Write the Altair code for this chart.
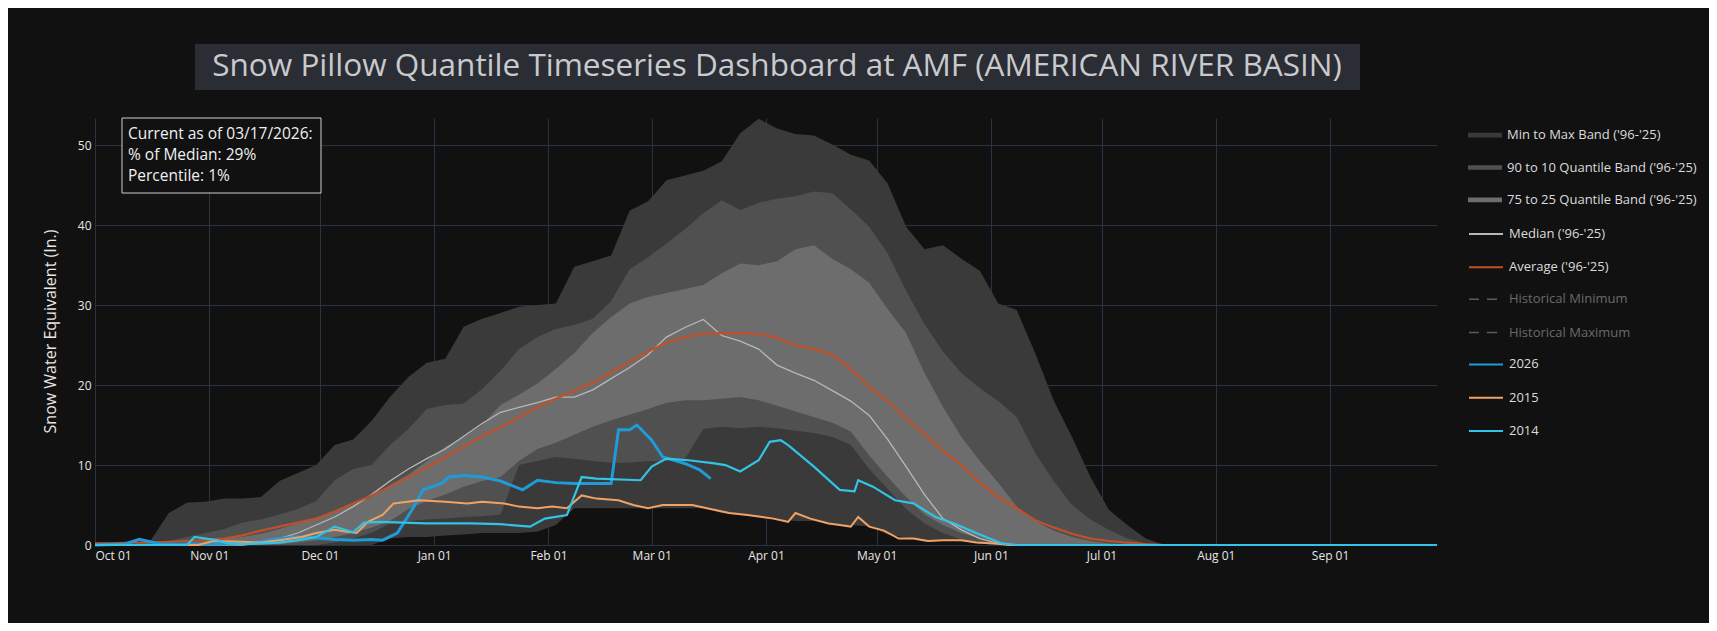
import altair as alt
import pandas as pd

START = pd.Timestamp("2025-10-01")

LBL_MINMAX = "Min to Max Band ('96-'25)"
LBL_9010 = "90 to 10 Quantile Band ('96-'25)"
LBL_7525 = "75 to 25 Quantile Band ('96-'25)"
LBL_MED = "Median ('96-'25)"
LBL_AVG = "Average ('96-'25)"
LBL_HMIN = "Historical Minimum"
LBL_HMAX = "Historical Maximum"

BAND_NAMES = [LBL_MINMAX, LBL_9010, LBL_7525]
BAND_COLORS = ["#3a3a3a", "#505050", "#6d6d6d"]
STAT_NAMES = [LBL_MED, LBL_AVG]
STAT_COLORS = ["#b8b8b8", "#c0502a"]
HIST_NAMES = [LBL_HMIN, LBL_HMAX]
YEAR_NAMES = ["2026", "2015", "2014"]
YEAR_COLORS = ["#1f9bd7", "#f0a266", "#33c3e6"]

# day offsets from Oct 01 (water-year day), every 5 days, plus Sep 30
BAND_DAYS = list(range(0, 295, 5)) + [364]

MAX_SWE = [0.3, 0.3, 0.4, 0.5, 4.0, 5.3, 5.4, 5.8, 5.8, 6.0,
           8.0, 9.0, 10.0, 12.5, 13.2, 15.5, 18.5, 21.0, 22.8, 23.3,
           27.3, 28.3, 29.0, 29.8, 30.0, 30.2, 34.8, 35.5, 36.2, 41.8,
           43.0, 45.6, 46.2, 46.8, 48.0, 51.5, 53.3, 52.1, 51.4, 51.2,
           50.1, 48.8, 48.1, 45.2, 39.8, 37.0, 37.5, 35.8, 34.3, 30.2,
           29.4, 24.0, 18.1, 13.5, 8.5, 4.4, 2.5, 0.8, 0.0, 0.0]
P90_SWE = [0.2, 0.2, 0.2, 0.3, 0.5, 1.0, 1.5, 2.0, 2.8, 3.2,
           3.8, 4.5, 5.5, 8.1, 9.5, 10.0, 12.5, 14.5, 17.0, 17.5,
           17.7, 19.5, 21.8, 24.5, 26.0, 27.0, 27.5, 28.3, 30.5, 34.5,
           36.0, 37.7, 39.5, 41.5, 43.1, 41.9, 42.8, 43.3, 43.6, 44.2,
           44.0, 42.0, 39.8, 36.5, 31.8, 27.6, 24.2, 21.5, 19.6, 18.0,
           16.0, 11.5, 8.0, 5.0, 3.2, 1.9, 0.8, 0.2, 0.0, 0.0]
P75_SWE = [0.0, 0.0, 0.0, 0.0, 0.1, 0.3, 0.5, 0.8, 1.0, 1.4,
           2.0, 2.7, 3.4, 4.2, 5.0, 6.0, 7.5, 8.8, 10.5, 12.3,
           13.5, 15.0, 17.5, 18.8, 20.2, 22.0, 24.0, 26.5, 28.5, 30.2,
           31.0, 31.5, 32.0, 32.5, 34.0, 35.2, 35.0, 35.5, 37.0, 37.5,
           35.8, 34.5, 32.8, 29.5, 26.5, 21.5, 17.3, 13.5, 10.5, 7.8,
           4.8, 3.0, 1.8, 1.0, 0.5, 0.2, 0.0, 0.0, 0.0, 0.0]
P25_SWE = [0.0, 0.0, 0.0, 0.0, 0.0, 0.0, 0.0, 0.0, 0.0, 0.0,
           0.1, 0.3, 0.6, 1.0, 1.5, 2.2, 3.0, 4.5, 5.5, 6.3,
           7.3, 8.0, 8.5, 10.5, 12.0, 12.8, 13.8, 14.8, 15.6, 16.3,
           17.0, 17.8, 18.1, 18.1, 18.3, 18.5, 18.1, 17.4, 16.7, 16.0,
           15.3, 14.2, 11.2, 8.5, 6.0, 3.8, 2.5, 1.5, 0.8, 0.3,
           0.1, 0.0, 0.0, 0.0, 0.0, 0.0, 0.0, 0.0, 0.0, 0.0]
P10_SWE = [0.0, 0.0, 0.0, 0.0, 0.0, 0.0, 0.0, 0.0, 0.0, 0.0,
           0.0, 0.0, 0.0, 0.3, 0.8, 1.5, 2.7, 3.0, 3.2, 3.3,
           3.5, 3.6, 3.8, 10.0, 10.5, 11.0, 10.8, 10.5, 10.3, 10.3,
           10.5, 10.5, 10.8, 14.5, 14.8, 14.6, 14.8, 14.6, 14.3, 14.0,
           13.5, 12.5, 9.5, 7.0, 4.5, 2.7, 1.5, 0.7, 0.2, 0.0,
           0.0, 0.0, 0.0, 0.0, 0.0, 0.0, 0.0, 0.0, 0.0, 0.0]
MIN_SWE = [0.0, 0.0, 0.0, 0.0, 0.0, 0.0, 0.0, 0.0, 0.0, 0.0,
           0.0, 0.0, 0.0, 0.0, 0.0, 0.0, 0.8, 1.0, 1.0, 1.2,
           1.3, 1.5, 1.5, 1.5, 1.7, 2.5, 4.6, 4.6, 4.6, 4.6,
           4.6, 4.6, 4.6, 4.6, 4.0, 3.75, 3.5, 3.2, 3.0, 3.0,
           2.5, 2.5, 2.3, 1.3, 0.9, 0.4, 0.5, 0.5, 0.3, 0.1,
           0.0, 0.0, 0.0, 0.0, 0.0, 0.0, 0.0, 0.0, 0.0, 0.0]
MEDIAN_SWE = [0.0, 0.0, 0.0, 0.0, 0.0, 0.0, 0.0, 0.0, 0.0, 0.3,
              0.8, 1.5, 2.5, 3.5, 4.8, 6.3, 8.0, 9.5, 10.8, 12.0,
              13.6, 15.2, 16.6, 17.2, 17.8, 18.5, 18.5, 19.4, 20.8, 22.2,
              23.8, 26.0, 27.2, 28.2, 26.2, 25.5, 24.5, 22.5, 21.5, 20.6,
              19.3, 18.0, 16.2, 13.2, 9.8, 6.3, 3.3, 1.9, 0.8, 0.2,
              0.0, 0.0, 0.0, 0.0, 0.0, 0.0, 0.0, 0.0, 0.0, 0.0]
AVG_SWE = [0.2, 0.2, 0.3, 0.3, 0.4, 0.5, 0.6, 0.8, 1.2, 1.8,
           2.3, 2.8, 3.3, 4.2, 5.2, 6.2, 7.3, 8.5, 9.7, 11.0,
           12.3, 13.6, 14.7, 16.0, 17.2, 18.3, 19.3, 20.3, 21.6, 22.9,
           24.2, 25.3, 26.0, 26.4, 26.5, 26.5, 26.4, 25.9, 25.0, 24.5,
           23.8, 22.0, 19.8, 18.0, 15.8, 13.8, 11.8, 10.0, 7.8, 6.0,
           4.6, 3.1, 2.2, 1.4, 0.8, 0.5, 0.3, 0.1, 0.0, 0.0]

Y2026_DAYS = [0, 8, 12, 15, 18, 30, 40, 45, 50, 55, 60, 65, 70, 75, 78,
              82, 86, 89, 94, 96, 100, 105, 110, 116, 120, 125, 130,
              136, 140, 142, 145, 147, 151, 154, 160, 164, 167]
Y2026_SWE = [0.0, 0.1, 0.7, 0.4, 0.1, 0.1, 0.2, 0.4, 0.8, 1.0, 0.9, 0.7,
             0.6, 0.7, 0.6, 1.5, 4.4, 6.9, 7.7, 8.5, 8.7, 8.5, 8.0, 6.9,
             8.1, 7.8, 7.7, 7.7, 7.7, 14.4, 14.4, 15.0, 13.1, 11.0, 10.2,
             9.4, 8.3]

Y2015_DAYS = [0, 28, 32, 40, 45, 50, 56, 60, 65, 68, 71, 74, 78, 81, 88,
              95, 101, 105, 111, 115, 120, 124, 128, 132, 136, 142, 146,
              150, 154, 158, 162, 166, 172, 177, 181, 184, 188, 190, 194,
              199, 202, 205, 207, 210, 214, 218, 222, 226, 230, 235, 239,
              244, 248, 364]
Y2015_SWE = [0.0, 0.0, 0.5, 0.4, 0.3, 0.6, 1.0, 1.5, 1.9, 1.7, 1.5, 2.9,
             3.75, 5.2, 5.6, 5.4, 5.2, 5.4, 5.2, 4.8, 4.6, 4.8, 4.6, 6.2,
             5.8, 5.6, 5.0, 4.6, 5.0, 5.0, 5.0, 4.6, 4.0, 3.75, 3.5, 3.3,
             2.9, 4.0, 3.3, 2.7, 2.5, 2.3, 3.5, 2.3, 1.8, 0.8, 0.8, 0.5,
             0.6, 0.6, 0.3, 0.2, 0.0, 0.0]

Y2014_DAYS = [0, 25, 27, 30, 33, 36, 40, 50, 55, 60, 65, 70, 73, 77, 90,
              102, 110, 118, 122, 128, 131, 132, 136, 148, 151, 155, 161,
              168, 171, 175, 180, 183, 186, 188, 195, 202, 206, 207, 211,
              217, 222, 228, 233, 239, 246, 250, 364]
Y2014_SWE = [0.0, 0.0, 1.0, 0.8, 0.6, 0.2, 0.1, 0.3, 0.6, 1.0, 2.3, 1.6,
             2.8, 2.9, 2.7, 2.7, 2.6, 2.3, 3.3, 3.75, 7.3, 8.5, 8.3, 8.1,
             9.8, 10.8, 10.6, 10.2, 10.0, 9.2, 10.6, 12.9, 13.1, 12.5, 9.8,
             6.9, 6.7, 8.1, 7.3, 5.6, 5.2, 3.5, 2.7, 1.5, 0.2, 0.0, 0.0]

TITLE = "Snow Pillow Quantile Timeseries Dashboard at AMF (AMERICAN RIVER BASIN)"
NOTE = ["Current as of 03/17/2026:", "% of Median: 29%", "Percentile: 1%"]
Y_TITLE = "Snow Water Equivalent (In.)"
Y_TICKS = [0, 10, 20, 30, 40, 50]


def day_to_date(d):
    return (START + pd.Timedelta(days=int(d))).strftime("%Y-%m-%dT00:00:00")


def band_df(name, lo, hi):
    return pd.DataFrame({"date": [day_to_date(d) for d in BAND_DAYS],
                         "lo": lo, "hi": hi, "series": name})


def line_df(name, days, vals):
    return pd.DataFrame({"date": [day_to_date(d) for d in days],
                         "swe": vals, "series": name})


FONT = "Open Sans"
LABEL_COLOR = "#dcdcdc"
GRID = "#283442"
month_ticks = [alt.DateTime(year=2025 if m >= 10 else 2026, month=m, date=1)
               for m in [10, 11, 12, 1, 2, 3, 4, 5, 6, 7, 8, 9]]

x_enc = alt.X("date:T",
              scale=alt.Scale(domain=[alt.DateTime(year=2025, month=10, date=1),
                                      alt.DateTime(year=2026, month=9, date=30)]),
              axis=alt.Axis(values=month_ticks, format="%b %d", title=None,
                            labelFont=FONT, labelFontSize=12, labelColor="#e6e6e6",
                            grid=True, gridColor=GRID, domain=False,
                            ticks=False, labelPadding=5, labelOverlap=False))
y_scale = alt.Scale(domain=[0, 53.4], nice=False, zero=True)
y_axis = alt.Axis(values=Y_TICKS, title=Y_TITLE, titleFont=FONT, titleFontSize=16,
                  titleFontWeight="normal", titleColor="#e6e6e6", titleX=-45,
                  titleY=213, titleAngle=270, titleAlign="center",
                  titleBaseline="middle",
                  labelFont=FONT, labelFontSize=12, labelColor="#e6e6e6",
                  grid=True, gridColor=GRID, domain=False, ticks=False,
                  labelPadding=4)

ROW = 32.6
LEG_X = 1374
LEG_Y0 = 1.2


def leg(row_index, **kw):
    base = dict(title=None, orient="none", legendX=LEG_X,
                legendY=LEG_Y0 + ROW * row_index, symbolSize=1000,
                labelFont=FONT, labelFontSize=13, labelColor=LABEL_COLOR,
                labelOffset=6, rowPadding=9.3, padding=0,
                labelLimit=400, symbolOpacity=1)
    base.update(kw)
    return alt.Legend(**base)


BAR_SYMBOL = "M-1.075,-0.15L1.075,-0.15L1.075,0.15L-1.075,0.15Z"
LINE_SYMBOL = "M-1.075,0L1.075,0"

fill_enc = alt.Fill("series:N",
                    scale=alt.Scale(domain=BAND_NAMES, range=BAND_COLORS),
                    legend=leg(0, symbolType=BAR_SYMBOL, symbolStrokeWidth=0))
stat_enc = alt.Stroke("series:N",
                      scale=alt.Scale(domain=STAT_NAMES, range=STAT_COLORS),
                      legend=leg(3, symbolType=LINE_SYMBOL, symbolStrokeWidth=2))
hist_enc = alt.StrokeDash("series:N",
                          scale=alt.Scale(domain=HIST_NAMES,
                                          range=[[10, 8], [10, 8]]),
                          legend=leg(5, symbolType=LINE_SYMBOL,
                                     symbolStrokeWidth=1.5,
                                     symbolStrokeColor="#5c5c5c",
                                     labelColor="#6a6a6a"))
year_enc = alt.Color("series:N",
                     scale=alt.Scale(domain=YEAR_NAMES, range=YEAR_COLORS),
                     legend=leg(7, symbolType=LINE_SYMBOL, symbolStrokeWidth=2))

one_row = pd.DataFrame({"k": [0]})

title_box = alt.Chart(one_row).mark_rect(color="#2a2d34").encode(
    x=alt.value(100), x2=alt.value(1265), y=alt.value(-74), y2=alt.value(-28))
title_text = alt.Chart(one_row).mark_text(
    text=TITLE, font=FONT, fontSize=31.5, color="#c8cacd", align="center",
    baseline="middle").encode(x=alt.value(682), y=alt.value(-51))

y_q = alt.Y("hi:Q", scale=y_scale, axis=y_axis)
band_layers = [
    alt.Chart(band_df(LBL_MINMAX, MIN_SWE, MAX_SWE)).mark_area().encode(
        x=x_enc, y=y_q, y2="lo:Q", fill=fill_enc),
    alt.Chart(band_df(LBL_9010, P10_SWE, P90_SWE)).mark_area().encode(
        x=x_enc, y=y_q, y2="lo:Q", fill=fill_enc),
    alt.Chart(band_df(LBL_7525, P25_SWE, P75_SWE)).mark_area().encode(
        x=x_enc, y=y_q, y2="lo:Q", fill=fill_enc),
]

y_l = alt.Y("swe:Q", scale=y_scale, axis=y_axis)

# historical min / max traces are hidden (legend only) in the dashboard
hist_layer = alt.Chart(pd.concat([line_df(LBL_HMIN, BAND_DAYS, MIN_SWE),
                                  line_df(LBL_HMAX, BAND_DAYS, MAX_SWE)])).mark_line(
    opacity=0, color="#5c5c5c").encode(x=x_enc, y=y_l, strokeDash=hist_enc)

median_line = alt.Chart(line_df(LBL_MED, BAND_DAYS, MEDIAN_SWE)).mark_line(
    strokeWidth=1.3).encode(x=x_enc, y=y_l, stroke=stat_enc)
avg_line = alt.Chart(line_df(LBL_AVG, BAND_DAYS, AVG_SWE)).mark_line(
    strokeWidth=2.2).encode(x=x_enc, y=y_l, stroke=stat_enc)

y26 = alt.Chart(line_df("2026", Y2026_DAYS, Y2026_SWE)).mark_line(
    strokeWidth=3).encode(x=x_enc, y=y_l, color=year_enc)
y15 = alt.Chart(line_df("2015", Y2015_DAYS, Y2015_SWE)).mark_line(
    strokeWidth=2).encode(x=x_enc, y=y_l, color=year_enc)
y14 = alt.Chart(line_df("2014", Y2014_DAYS, Y2014_SWE)).mark_line(
    strokeWidth=2.2).encode(x=x_enc, y=y_l, color=year_enc)

note_box = alt.Chart(one_row).mark_rect(
    fill="#111111", stroke="#cfcfcf", strokeWidth=1).encode(
    x=alt.value(27), x2=alt.value(226), y=alt.value(0), y2=alt.value(75))
note_text = alt.Chart(one_row).mark_text(
    text=NOTE, font=FONT, fontSize=15.5, color="#f0f0f0", align="left",
    baseline="middle", lineHeight=21).encode(x=alt.value(33), y=alt.value(16))

chart = alt.layer(
    title_box, title_text, *band_layers, hist_layer, median_line, avg_line,
    y26, y15, y14, note_box, note_text
).properties(
    width=1342, height=427,
    autosize=alt.AutoSizeParams(type="none"),
    padding={"left": 87, "top": 110, "right": 272, "bottom": 78},
    background="#111111",
).configure_view(stroke=None)

chart.save("out.html", embed_options={"renderer": "svg", "actions": False})
